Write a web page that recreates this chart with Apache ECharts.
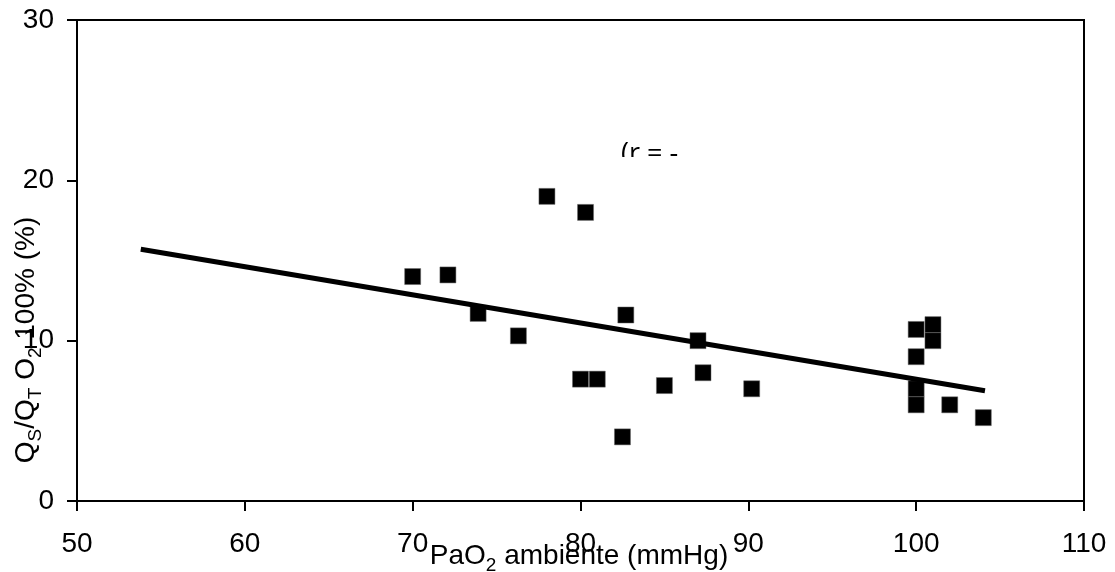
<!DOCTYPE html>
<html>
<head>
<meta charset="utf-8">
<script src="https://cdn.jsdelivr.net/npm/echarts@6/dist/echarts.min.js"></script>
<style>
  html, body { margin: 0; padding: 0; background: #ffffff; }
  #chart { width: 1115px; height: 572px; }
</style>
</head>
<body>
<div id="chart"></div>
<script>
// PaO2 ambiente (mmHg)
const paO2 = [70, 72.1, 73.9, 76.3, 78, 80.3, 80, 81, 82.7, 82.5, 85, 87, 87.3, 90.2, 100, 101, 101, 100, 100, 100, 102, 104];
// Qs/Qt (%)
const shunt = [14, 14.1, 11.7, 10.3, 19, 18, 7.6, 7.6, 11.6, 4, 7.2, 10, 8, 7, 10.7, 11, 10, 9, 7, 6, 6, 5.2];
// Trend line end points
const trendX = [53.8, 104.1];
const trendY = [15.7, 6.88];
// Axis ticks
const xTicks = [50, 60, 70, 80, 90, 100, 110];
const yTicks = [0, 10, 20, 30];
const annotation = '(r = -';

const FONT = '"Liberation Sans", Arial, sans-serif';
const chart = echarts.init(document.getElementById('chart'), null, { renderer: 'canvas' });

const option = {
  backgroundColor: '#ffffff',
  animation: false,
  grid: {
    left: 77, right: 31, top: 20, bottom: 71,
    show: true, borderColor: '#000', borderWidth: 2, backgroundColor: 'transparent'
  },
  xAxis: {
    type: 'value',
    min: xTicks[0], max: xTicks[xTicks.length - 1], interval: 10,
    axisLine: { show: true, onZero: false, lineStyle: { color: '#000', width: 2 } },
    axisTick: { show: true, length: 10, lineStyle: { color: '#000', width: 2 } },
    axisLabel: { color: '#000', fontFamily: FONT, fontSize: 28, margin: 29 },
    splitLine: { show: false }
  },
  yAxis: {
    type: 'value',
    min: yTicks[0], max: yTicks[yTicks.length - 1], interval: 10,
    axisLine: { show: true, onZero: false, lineStyle: { color: '#000', width: 2 } },
    axisTick: { show: true, length: 10, lineStyle: { color: '#000', width: 2 } },
    axisLabel: { color: '#000', fontFamily: FONT, fontSize: 28, margin: 23 },
    splitLine: { show: false }
  },
  series: [
    {
      type: 'scatter',
      data: paO2.map((x, i) => [x, shunt[i]]),
      symbol: 'rect',
      symbolSize: 16,
      itemStyle: { color: '#000', opacity: 1, borderColor: '#666', borderWidth: 0.5 },
      emphasis: { disabled: true },
      z: 2
    },
    {
      type: 'line',
      data: trendX.map((x, i) => [x, trendY[i]]),
      showSymbol: false,
      symbol: 'none',
      lineStyle: { color: '#000', width: 5, opacity: 1 },
      z: 3
    }
  ],
  graphic: [
    {
      type: 'text',
      x: 621, y: 141,
      style: {
        text: annotation,
        fontFamily: '"Open Sans", "DejaVu Sans", sans-serif',
        fontSize: 27,
        fill: '#000',
        textVerticalAlign: 'top'
      },
      z: 10
    },
    {
      type: 'rect',
      shape: { x: 612, y: 157, width: 100, height: 20 },
      style: { fill: '#fff' },
      z: 11
    },
    {
      type: 'text',
      x: 579, y: 556,
      style: {
        text: '{m|PaO}{s|2}{m| ambiente (mmHg)}',
        align: 'center',
        verticalAlign: 'middle',
        rich: {
          m: { fontFamily: FONT, fontSize: 28, color: '#000', lineHeight: 38, verticalAlign: 'middle' },
          s: { fontFamily: FONT, fontSize: 19, color: '#000', lineHeight: 38, verticalAlign: 'bottom' }
        }
      },
      z: 10
    },
    {
      type: 'text',
      x: 26, y: 340,
      rotation: Math.PI / 2,
      style: {
        text: '{m|Q}{s|S}{m|/Q}{s|T}{m| O}{s|2}{m| 100% (%)}',
        align: 'center',
        verticalAlign: 'middle',
        rich: {
          m: { fontFamily: FONT, fontSize: 28, color: '#000', lineHeight: 38, verticalAlign: 'middle' },
          s: { fontFamily: FONT, fontSize: 19, color: '#000', lineHeight: 38, verticalAlign: 'bottom' }
        }
      },
      z: 10
    }
  ]
};
chart.setOption(option);
</script>
</body>
</html>
